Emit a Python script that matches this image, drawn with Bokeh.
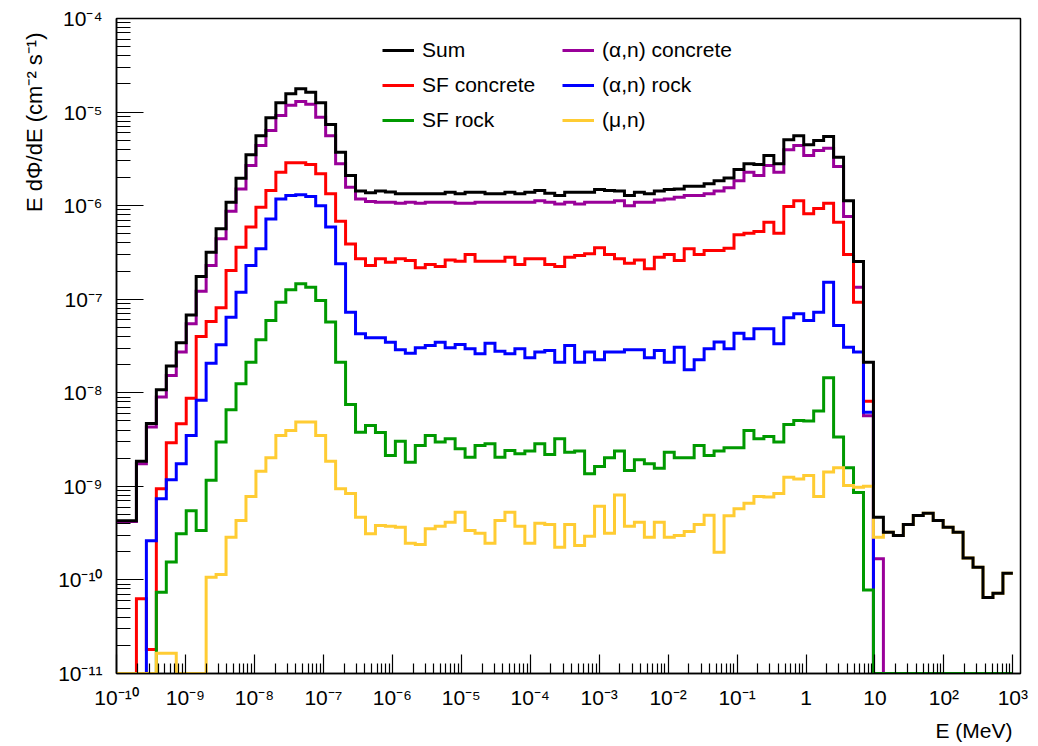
import numpy as np
from bokeh.plotting import figure
from bokeh.models import (Range1d, FixedTicker, CustomJSTickFormatter, Legend,
                          LegendItem, Title)
from bokeh.embed import file_html
from bokeh.resources import INLINE

# ---------------- data: 90 log-spaced bins, 1e-10 .. 1e3 MeV ----------------
E_LOW, E_HIGH, N_BINS = 1e-10, 1e3, 90

sum_total = [
    4.3e-10, 4.3e-10, 1.86e-9, 4.7e-9, 1.08e-8, 1.93e-8, 3.42e-8, 6.8e-8, 1.75e-7, 3.18e-7,
    5.66e-7, 1.09e-6, 1.96e-6, 3.49e-6, 5.6e-6, 8.7e-6, 1.26e-5, 1.57e-5, 1.77e-5, 1.63e-5,
    1.26e-5, 7.36e-6, 3.72e-6, 2.1e-6, 1.43e-6, 1.37e-6, 1.43e-6, 1.4e-6, 1.34e-6, 1.34e-6,
    1.34e-6, 1.34e-6, 1.34e-6, 1.39e-6, 1.34e-6, 1.39e-6, 1.39e-6, 1.34e-6, 1.34e-6, 1.39e-6,
    1.34e-6, 1.39e-6, 1.45e-6, 1.36e-6, 1.28e-6, 1.39e-6, 1.39e-6, 1.39e-6, 1.49e-6, 1.45e-6,
    1.43e-6, 1.28e-6, 1.39e-6, 1.34e-6, 1.43e-6, 1.49e-6, 1.51e-6, 1.61e-6, 1.61e-6, 1.71e-6,
    1.84e-6, 1.98e-6, 2.43e-6, 2.8e-6, 2.75e-6, 3.43e-6, 2.8e-6, 5.05e-6, 5.6e-6, 4.47e-6,
    4.96e-6, 5.48e-6, 3.29e-6, 1.13e-6, 2.53e-7, 2.12e-8, 4.68e-10, 3.23e-10, 2.98e-10, 3.9e-10,
    4.88e-10, 5.16e-10, 4.31e-10, 3.66e-10, 3.23e-10, 1.72e-10, 1.37e-10, 6.5e-11, 7.2e-11, 1.18e-10,
]

alpha_concrete = [
    4.2e-10, 4.2e-10, 1.74e-9, 4.3e-9, 9.0e-9, 1.53e-8, 2.72e-8, 5.46e-8, 1.22e-7, 2.29e-7,
    4.42e-7, 8.7e-7, 1.51e-6, 2.68e-6, 4.39e-6, 6.35e-6, 9.2e-6, 1.18e-5, 1.3e-5, 1.21e-5,
    8.8e-6, 5.6e-6, 2.8e-6, 1.57e-6, 1.18e-6, 1.11e-6, 1.09e-6, 1.09e-6, 1.06e-6, 1.09e-6,
    1.06e-6, 1.09e-6, 1.09e-6, 1.09e-6, 1.06e-6, 1.06e-6, 1.09e-6, 1.09e-6, 1.09e-6, 1.09e-6,
    1.09e-6, 1.09e-6, 1.13e-6, 1.09e-6, 1.04e-6, 1.09e-6, 1.04e-6, 1.09e-6, 1.09e-6, 1.09e-6,
    1.13e-6, 1.0e-6, 1.09e-6, 1.09e-6, 1.15e-6, 1.18e-6, 1.23e-6, 1.28e-6, 1.28e-6, 1.34e-6,
    1.43e-6, 1.55e-6, 1.85e-6, 2.27e-6, 2.1e-6, 2.68e-6, 2.27e-6, 3.95e-6, 4.39e-6, 3.43e-6,
    3.88e-6, 4.1e-6, 2.62e-6, 7.65e-7, 1.34e-7, 5.7e-9, 1.68e-10, 0, 0, 0,
    0, 0, 0, 0, 0, 0, 0, 0, 0, 0,
]

sf_concrete = [
    0, 0, 6.3e-11, 1.8e-11, 9.4e-10, 2.92e-9, 4.67e-9, 8.76e-9, 4.0e-8, 5.78e-8,
    8.1e-8, 2.03e-7, 3.6e-7, 5.9e-7, 9.6e-7, 1.45e-6, 2.27e-6, 2.87e-6, 2.87e-6, 2.75e-6,
    2.19e-6, 1.34e-6, 6.8e-7, 3.9e-7, 2.7e-7, 2.29e-7, 2.7e-7, 2.49e-7, 2.7e-7, 2.59e-7,
    2.17e-7, 2.35e-7, 2.24e-7, 2.63e-7, 2.55e-7, 3.0e-7, 2.55e-7, 2.55e-7, 2.55e-7, 2.81e-7,
    2.35e-7, 2.7e-7, 2.7e-7, 2.35e-7, 2.24e-7, 2.81e-7, 2.93e-7, 3.06e-7, 3.54e-7, 3.0e-7,
    2.7e-7, 2.43e-7, 2.63e-7, 2.11e-7, 2.81e-7, 3.0e-7, 2.59e-7, 3.46e-7, 3.0e-7, 3.31e-7,
    3.31e-7, 3.51e-7, 4.88e-7, 5.08e-7, 5.3e-7, 6.64e-7, 5.08e-7, 9.8e-7, 1.13e-6, 8.2e-7,
    9.3e-7, 1.06e-6, 6.64e-7, 3.0e-7, 9.3e-8, 8.1e-9, 0, 0, 0, 0,
    0, 0, 0, 0, 0, 0, 0, 0, 0, 0,
]

alpha_rock = [
    0, 0, 0, 2.63e-10, 7.36e-10, 1.18e-9, 1.74e-9, 3.5e-9, 8.3e-9, 2.07e-8,
    3.26e-8, 6.43e-8, 1.19e-7, 2.29e-7, 3.46e-7, 7.2e-7, 1.18e-6, 1.28e-6, 1.31e-6, 1.25e-6,
    1.0e-6, 5.9e-7, 2.39e-7, 7.26e-8, 4.27e-8, 3.87e-8, 3.87e-8, 3.47e-8, 2.88e-8, 2.65e-8,
    3.02e-8, 3.2e-8, 3.47e-8, 3.02e-8, 3.28e-8, 2.95e-8, 2.61e-8, 3.39e-8, 2.78e-8, 2.61e-8,
    2.95e-8, 2.37e-8, 2.72e-8, 2.83e-8, 2.12e-8, 3.2e-8, 2.12e-8, 2.72e-8, 2.25e-8, 2.72e-8,
    2.72e-8, 2.88e-8, 2.88e-8, 2.37e-8, 2.83e-8, 2.12e-8, 3.07e-8, 1.76e-8, 2.25e-8, 2.95e-8,
    3.5e-8, 2.95e-8, 4.33e-8, 3.78e-8, 4.83e-8, 4.83e-8, 3.34e-8, 6.33e-8, 7.0e-8, 5.93e-8,
    7.26e-8, 1.52e-7, 5.25e-8, 3.07e-8, 2.72e-8, 6.2e-9, 0, 0, 0, 0,
    0, 0, 0, 0, 0, 0, 0, 0, 0, 0,
]

sf_rock = [
    0, 0, 0, 0, 7.4e-11, 1.55e-10, 3.11e-10, 5.5e-10, 3.37e-10, 1.16e-9,
    2.97e-9, 6.6e-9, 1.25e-8, 2.12e-8, 3.69e-8, 5.93e-8, 9.3e-8, 1.26e-7, 1.46e-7, 1.34e-7,
    9.7e-8, 5.7e-8, 2.12e-8, 7.5e-9, 3.79e-9, 4.47e-9, 3.77e-9, 2.14e-9, 3.04e-9, 1.81e-9,
    2.74e-9, 3.5e-9, 2.97e-9, 3.22e-9, 2.52e-9, 2.05e-9, 2.74e-9, 2.85e-9, 2.05e-9, 2.42e-9,
    2.23e-9, 2.38e-9, 2.85e-9, 2.19e-9, 3.22e-9, 2.32e-9, 2.38e-9, 1.36e-9, 1.63e-9, 2.02e-9,
    2.38e-9, 1.48e-9, 1.93e-9, 1.74e-9, 1.56e-9, 2.32e-9, 2.02e-9, 2.02e-9, 2.74e-9, 2.14e-9,
    2.38e-9, 2.59e-9, 2.59e-9, 3.96e-9, 3.22e-9, 3.41e-9, 2.97e-9, 4.59e-9, 5.07e-9, 5.0e-9,
    6.37e-9, 1.45e-8, 3.36e-9, 1.58e-9, 8.6e-10, 7.8e-11, 0, 0, 0, 0,
    0, 0, 0, 0, 0, 0, 0, 0, 0, 0,
]

mu_n = [
    0, 0, 0, 0, 1.65e-11, 1.65e-11, 0, 0, 0, 1.07e-10,
    1.14e-10, 2.86e-10, 4.31e-10, 7.8e-10, 1.45e-9, 2.02e-9, 3.5e-9, 3.96e-9, 4.86e-9, 4.86e-9,
    3.5e-9, 1.86e-9, 9.4e-10, 8.4e-10, 4.68e-10, 3.11e-10, 3.81e-10, 3.75e-10, 3.66e-10, 2.47e-10,
    2.39e-10, 3.52e-10, 3.75e-10, 4.14e-10, 5.3e-10, 3.37e-10, 3.16e-10, 2.47e-10, 4.31e-10, 5.3e-10,
    3.75e-10, 2.47e-10, 4.04e-10, 3.91e-10, 2.24e-10, 3.91e-10, 2.33e-10, 2.93e-10, 6.13e-10, 3.16e-10,
    8.1e-10, 3.75e-10, 4.14e-10, 2.86e-10, 4.14e-10, 2.86e-10, 2.98e-10, 3.29e-10, 3.91e-10, 4.9e-10,
    1.97e-10, 4.85e-10, 5.75e-10, 6.6e-10, 7.8e-10, 7.7e-10, 8.4e-10, 1.25e-9, 1.2e-9, 1.31e-9,
    7.8e-10, 1.42e-9, 1.58e-9, 1.02e-9, 9.8e-10, 1.0e-9, 2.86e-10, 3.23e-10, 2.98e-10, 3.9e-10,
    4.88e-10, 5.16e-10, 4.31e-10, 3.66e-10, 3.23e-10, 1.72e-10, 1.37e-10, 6.5e-11, 7.2e-11, 1.18e-10,
]

series_labels = ["Sum", "SF concrete", "SF rock", "(α,n) concrete", "(α,n) rock", "(μ,n)"]
series_colors = ["#000000", "#ff0000", "#009900", "#990099", "#0000ff", "#ffcc33"]

X_MIN, X_MAX = 1e-10, 1.29e3
Y_MIN, Y_MAX = 1e-11, 1e-4
FONT = "Liberation Sans"

edges = np.logspace(np.log10(E_LOW), np.log10(E_HIGH), N_BINS + 1)

p = figure(x_axis_type="log", y_axis_type="log",
           x_range=Range1d(X_MIN, X_MAX), y_range=Range1d(Y_MIN, Y_MAX),
           frame_width=904, frame_height=655,
           min_border_left=116, min_border_right=16,
           min_border_top=18, min_border_bottom=71,
           output_backend="svg", toolbar_location=None)

p.background_fill_color = "white"
p.border_fill_color = "white"
p.outline_line_color = "black"
p.outline_line_width = 1.5
p.xgrid.visible = False
p.ygrid.visible = False


def hist_renderer(vals, color):
    v = np.asarray(vals, dtype=float)
    y = np.where(v > 0, v, Y_MIN)          # empty bins drawn on the frame floor
    y = np.append(y, y[-1])
    return p.step(x=edges, y=y, mode="after", line_color=color,
                  line_width=3, line_join="miter")


data = dict(zip(series_labels, [sum_total, sf_concrete, sf_rock,
                                alpha_concrete, alpha_rock, mu_n]))
colors = dict(zip(series_labels, series_colors))
draw_order = ["(α,n) concrete", "SF concrete", "(α,n) rock", "SF rock", "(μ,n)", "Sum"]
rends = {}
for name in draw_order:
    rends[name] = hist_renderer(data[name], colors[name])

# ---------------- axes ----------------
fmt = CustomJSTickFormatter(code="""
const e = Math.round(Math.log10(tick));
if (e === 0) return "1";
if (e === 1) return "10";
const sup = {"-":"\u207b","0":"\u2070","1":"\u00b9","2":"\u00b2","3":"\u00b3","4":"\u2074",
             "5":"\u2075","6":"\u2076","7":"\u2077","8":"\u2078","9":"\u2079"};
return "10" + String(e).split("").map(c => sup[c]).join("");
""")

p.xaxis.ticker = FixedTicker(
    ticks=[10.0 ** e for e in range(-10, 4)],
    minor_ticks=[m * 10.0 ** e for e in range(-10, 3) for m in range(2, 10)])
p.yaxis.ticker = FixedTicker(
    ticks=[10.0 ** e for e in range(-11, -3)],
    minor_ticks=[m * 10.0 ** e for e in range(-11, -4) for m in range(2, 10)])

for ax in (p.xaxis[0], p.yaxis[0]):
    ax.formatter = fmt
    ax.axis_line_color = "black"
    ax.axis_line_width = 1.5
    ax.major_tick_line_color = "black"
    ax.minor_tick_line_color = "black"
    ax.major_tick_line_width = 1.2
    ax.minor_tick_line_width = 1.2
    ax.major_tick_out = 0
    ax.minor_tick_out = 0
    ax.major_label_text_font = FONT
    ax.major_label_text_font_size = "21px"
    ax.major_label_text_color = "black"

p.xaxis.major_tick_in = 19
p.xaxis.minor_tick_in = 10
p.xaxis.major_label_standoff = 12
p.yaxis.major_tick_in = 27
p.yaxis.minor_tick_in = 14
p.yaxis.major_label_standoff = 14

p.add_layout(Title(text="E (MeV)", align="right", offset=8,
                   text_font=FONT, text_font_size="21px",
                   text_font_style="normal", text_color="black"), "below")
p.add_layout(Title(text="E d\u03a6/dE (cm\u207b\u00b2 s\u207b\u00b9)", align="right", offset=14,
                   standoff=18,
                   text_font=FONT, text_font_size="22px",
                   text_font_style="normal", text_color="black"), "left")

# ---------------- legend (two columns) ----------------
def make_legend(names, loc):
    leg = Legend(items=[LegendItem(label=n, renderers=[rends[n]]) for n in names],
                 location=loc, orientation="vertical",
                 label_text_font=FONT, label_text_font_size="21px",
                 label_text_color="black",
                 glyph_width=32, glyph_height=22, label_height=22,
                 label_standoff=8, spacing=11, padding=0, margin=0,
                 border_line_alpha=0, background_fill_alpha=0)
    p.add_layout(leg)

make_legend(["Sum", "SF concrete", "SF rock"], (266, 541))
make_legend(["(α,n) concrete", "(α,n) rock", "(μ,n)"], (446, 541))

open("out.html", "w").write(file_html(p, INLINE))
